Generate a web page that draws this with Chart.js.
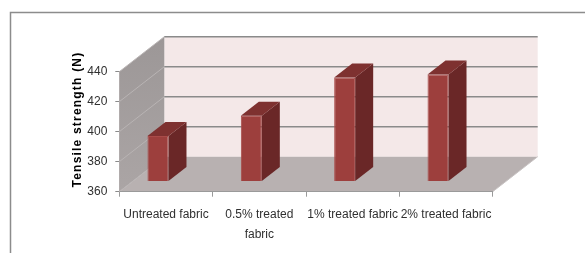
<!DOCTYPE html>
<html>
<head>
<meta charset="utf-8">
<script src="https://cdn.jsdelivr.net/npm/chart.js@4.4.1/dist/chart.umd.min.js"></script>
<style>
  html, body { margin: 0; padding: 0; background: #fff; }
  #wrap { width: 585px; height: 253px; }
</style>
</head>
<body>
<div id="wrap"><canvas id="chart" width="585" height="253"></canvas></div>
<script>
// data
var categories = ['Untreated fabric', ['0.5% treated', 'fabric'], '1% treated fabric', '2% treated fabric'];
var strength = [390, 403.5, 429, 431];
var yTicks = [360, 380, 400, 420, 440];
var yTitle = 'Tensile strength (N)';

// 3d look (walls, floor and bar boxes)
var WALL_DX = 45, WALL_DY = -35;
var BAR_SHIFT_X = -8, BAR_SHIFT_Y = -10.7;
var BAR_DX = 18, BAR_DY = -14;

var tickFont = { family: '"Liberation Sans", Arial, sans-serif', size: 12, lineHeight: 1.65 };

function poly(ctx, pts, fill) {
  ctx.beginPath();
  ctx.moveTo(pts[0][0], pts[0][1]);
  for (var i = 1; i < pts.length; i++) ctx.lineTo(pts[i][0], pts[i][1]);
  ctx.closePath();
  ctx.fillStyle = fill;
  ctx.fill();
}

var threeD = {
  id: 'threeD',
  beforeDraw: function (chart) {
    var ctx = chart.ctx, a = chart.chartArea, y = chart.scales.y;
    var L = a.left, R = a.right, T = a.top, B = a.bottom;
    ctx.save();
    // outer frame
    ctx.strokeStyle = '#8c8c8c';
    ctx.lineWidth = 1.5;
    ctx.beginPath();
    ctx.moveTo(10.5, 253);
    ctx.lineTo(10.5, 12.5);
    ctx.lineTo(585, 12.5);
    ctx.stroke();

    // back wall
    poly(ctx, [[L + WALL_DX, T + WALL_DY], [R + WALL_DX, T + WALL_DY], [R + WALL_DX, B + WALL_DY], [L + WALL_DX, B + WALL_DY]], '#f4e8e8');
    // side wall
    var g = ctx.createLinearGradient(0, T + WALL_DY, 0, B);
    g.addColorStop(0, '#9c9797');
    g.addColorStop(1, '#aba5a5');
    poly(ctx, [[L, T], [L + WALL_DX, T + WALL_DY], [L + WALL_DX, B + WALL_DY], [L, B]], g);
    // floor
    poly(ctx, [[L, B], [R, B], [R + WALL_DX, B + WALL_DY], [L + WALL_DX, B + WALL_DY]], '#b8b1b1');
    ctx.strokeStyle = '#c9c4c4';
    ctx.lineWidth = 1;
    ctx.beginPath();
    ctx.moveTo(R, B);
    ctx.lineTo(R + WALL_DX, B + WALL_DY);
    ctx.stroke();

    // gridlines on the walls
    y.ticks.forEach(function (t) {
      var py = y.getPixelForValue(t.value);
      ctx.strokeStyle = '#b9b4b4';
      ctx.lineWidth = 1;
      ctx.beginPath();
      ctx.moveTo(L, py);
      ctx.lineTo(L + WALL_DX, py + WALL_DY);
      ctx.stroke();
      if (t.value === y.min) return;
      ctx.strokeStyle = '#8a8a8a';
      ctx.lineWidth = 1.5;
      ctx.beginPath();
      ctx.moveTo(L + WALL_DX, py + WALL_DY);
      ctx.lineTo(R + WALL_DX, py + WALL_DY);
      ctx.stroke();
    });
    ctx.restore();
  },
  beforeDatasetsDraw: function (chart) {
    chart.ctx.save();
    chart.ctx.translate(BAR_SHIFT_X, BAR_SHIFT_Y);
  },
  afterDatasetsDraw: function (chart) {
    var ctx = chart.ctx, y = chart.scales.y;
    ctx.restore();
    ctx.save();
    var b = y.getPixelForValue(y.min) + BAR_SHIFT_Y;
    chart.getDatasetMeta(0).data.forEach(function (bar) {
      var p = bar.getProps(['x', 'y', 'width'], true);
      var l = p.x - p.width / 2 + BAR_SHIFT_X, r = p.x + p.width / 2 + BAR_SHIFT_X;
      var t = p.y + BAR_SHIFT_Y;
      poly(ctx, [[r, t], [r + BAR_DX, t + BAR_DY], [r + BAR_DX, b + BAR_DY], [r, b]], '#6a2727');
      poly(ctx, [[l, t], [l + BAR_DX, t + BAR_DY], [r + BAR_DX, t + BAR_DY], [r, t]], '#7e3130');
    });
    ctx.restore();
  },
  afterDraw: function (chart) {
    var ctx = chart.ctx;
    ctx.save();
    ctx.translate(77.5, 119.5);
    ctx.rotate(-Math.PI / 2);
    ctx.font = 'bold 12px "Liberation Sans", Arial, sans-serif';
    ctx.letterSpacing = '1.2px';
    ctx.fillStyle = '#000';
    ctx.textAlign = 'center';
    ctx.textBaseline = 'middle';
    ctx.fillText(yTitle, 0, 0);
    ctx.restore();
  }
};

new Chart(document.getElementById('chart'), {
  type: 'bar',
  data: {
    labels: categories,
    datasets: [{
      label: yTitle,
      data: strength,
      backgroundColor: '#9d3f3d',
      borderColor: '#a94b49',
      borderWidth: 1,
      categoryPercentage: 1,
      barPercentage: 0.225
    }]
  },
  options: {
    responsive: false,
    devicePixelRatio: 1,
    animation: false,
    layout: { padding: { left: 0, top: 71.7, right: 92.3, bottom: 0 } },
    plugins: { legend: { display: false }, tooltip: { enabled: false } },
    scales: {
      x: {
        grid: { offset: true, drawOnChartArea: false, tickLength: 5, color: '#9a9a9a' },
        border: { color: '#9a9a9a' },
        ticks: { font: tickFont, color: '#303030', padding: 8, maxRotation: 0, autoSkip: false },
        afterFit: function (s) { s.height = 61.3; }
      },
      y: {
        min: 360,
        max: 440,
        afterBuildTicks: function (s) { s.ticks = yTicks.map(function (v) { return { value: v }; }); },
        grid: { drawOnChartArea: false, tickLength: 4, color: '#8a8a8a' },
        border: { color: '#b0abab' },
        ticks: { font: tickFont, color: '#303030', padding: 8 },
        afterFit: function (s) { s.width = 119.3; }
      }
    }
  },
  plugins: [threeD]
});
</script>
</body>
</html>
